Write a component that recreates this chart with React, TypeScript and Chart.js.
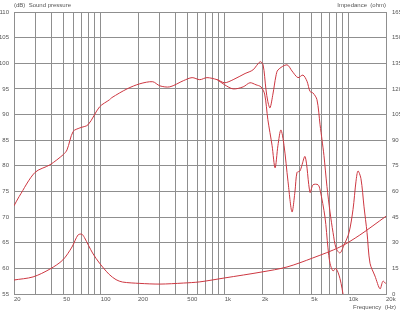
import React, { useEffect, useRef } from "react";
import { Chart, registerables } from "chart.js";

Chart.register(...registerables);

// Frequency axis (Hz)
const gridFreqs = [
  20, 30, 40, 50, 60, 70, 80, 90, 100, 200, 300, 400, 500, 600, 700, 800, 900,
  1000, 2000, 3000, 4000, 5000, 6000, 7000, 8000, 9000, 10000, 20000,
];
const labeledFreqs: Record<number, string> = {
  20: "20", 50: "50", 100: "100", 200: "200", 500: "500",
  1000: "1k", 2000: "2k", 5000: "5k", 10000: "10k", 20000: "20k",
};

// On-axis sound pressure (dB)
const onAxisFreq = [
  20, 22, 29.5, 39, 50, 53.5, 60, 68, 79, 98, 118, 123, 163, 207, 263, 300, 361, 464, 546, 630,
  720, 870, 1000, 1170, 1460, 1690, 1930, 2040, 2150, 2230, 2320, 2450, 2590, 2690, 3180, 3490,
  3900, 4280, 4610, 4880, 5160, 5550, 5880, 6100, 6320, 6680, 7070, 7480, 7900, 8510, 9160,
  10070, 10840, 11460, 11890, 12560, 13300, 14060, 14860, 16300, 17900, 18900, 20000,
];
const onAxisSpl = [
  72.2, 74, 78.7, 80.2, 82.2, 83.1, 86.7, 87.4, 88, 91.5, 92.9, 93.3, 95, 96, 96.4, 95.6, 95.4, 96.6, 97.2, 96.8,
  97.2, 96.8, 96.2, 96.8, 98.0, 98.7, 100.3, 99.7, 95, 92.5, 91.3, 94, 97.5, 98.7, 99.7, 98.5,
  97.2, 97.7, 96.5, 94.5, 94.2, 92.9, 88, 85, 82, 76, 71, 67, 64, 63, 64.5,
  67, 71.5, 77, 79, 77.5, 72, 67, 61, 58.5, 56, 57.5, 57,
];

// Off-axis sound pressure (dB)
const offAxisFreq = [
  870, 1000, 1170, 1410, 1600, 1790, 1960, 2100, 2230, 2410, 2550, 2690, 2840, 3010, 3240, 3490,
  3690, 3830, 4050, 4450, 4880, 5160, 5660, 5880, 6440, 6810, 7070, 7480, 7900, 8510, 9160,
];
const offAxisSpl = [
  96.8, 95.8, 95, 95.4, 96.2, 95.8, 95.4, 94, 89, 84, 79.6, 84, 87, 84, 77, 71,
  75, 78.7, 79, 81.8, 74.8, 76.3, 76.3, 75.3, 70, 64, 61, 59.5, 60, 58, 54,
];

// Impedance (ohm)
const impFreq = [
  20, 28.5, 39, 49.5, 58.7, 65.6, 70.5, 74, 86, 98, 117, 133, 150, 207, 300, 464, 630,
  1000, 2000, 3180, 5100, 8500, 12300, 20000,
];
const impOhm = [
  8.2, 10, 14.6, 19.9, 27.5, 34.5, 35, 33, 24, 18, 11.5, 8.4, 7, 6.2, 5.8, 6.4, 7.1,
  9.4, 12.9, 15.8, 21, 27.5, 34.5, 45.5,
];

const FONT = "'Liberation Sans', Arial, sans-serif";
const TEXT = "#555";
const GRID = "#8f8f8f";
const RED = "rgb(205,55,65)";

const toPts = (xs: number[], ys: number[]) => xs.map((x, i) => ({ x, y: ys[i] }));

const captions = {
  id: "captions",
  afterDraw(chart: any) {
    const ctx = chart.ctx;
    const area = chart.chartArea;
    ctx.save();
    ctx.fillStyle = TEXT;
    ctx.font = `6px ${FONT}`;
    ctx.textBaseline = "middle";
    ctx.textAlign = "left";
    ctx.fillText("(dB)  Sound pressure", area.left, 5);
    ctx.textAlign = "right";
    ctx.fillText("Impedance  (ohm)", area.right, 5);
    ctx.fillText("Frequency  (Hz)", 396, 307);
    ctx.restore();
  },
};

export default function App() {
  const ref = useRef<HTMLCanvasElement | null>(null);
  useEffect(() => {
    if (!ref.current) return;
    const chart = new Chart(ref.current, {
      type: "line",
      data: {
        datasets: [
          {
            data: toPts(onAxisFreq, onAxisSpl),
            borderColor: RED, borderWidth: 1, pointRadius: 0, tension: 0.3, yAxisID: "y",
          },
          {
            data: toPts(offAxisFreq, offAxisSpl),
            borderColor: RED, borderWidth: 1, pointRadius: 0, tension: 0.3, yAxisID: "y",
          },
          {
            data: toPts(impFreq, impOhm),
            borderColor: RED, borderWidth: 1, pointRadius: 0, tension: 0.3, yAxisID: "y2",
          },
        ],
      },
      options: {
        animation: false,
        responsive: false,
        events: [],
        layout: { padding: { top: 12, left: 0, right: 0, bottom: 0 } },
        plugins: { legend: { display: false }, tooltip: { enabled: false } },
        scales: {
          x: {
            type: "logarithmic",
            min: 20,
            max: 20000,
            afterBuildTicks: (scale: any) => {
              scale.ticks = gridFreqs.map((v) => ({ value: v }));
            },
            afterFit: (scale: any) => { scale.height = 16; },
            ticks: {
              autoSkip: false,
              maxRotation: 0,
              minRotation: 0,
              align: "start",
              padding: 2,
              color: TEXT,
              font: { family: FONT, size: 6 },
              callback: (v: any) => labeledFreqs[Number(v)] ?? "",
            },
            grid: { color: GRID, lineWidth: 1, drawTicks: false },
            border: { color: GRID },
          },
          y: {
            position: "left",
            min: 55,
            max: 110,
            afterFit: (scale: any) => { scale.width = 14; },
            ticks: {
              stepSize: 5,
              padding: 5,
              color: TEXT,
              font: { family: FONT, size: 6 },
            },
            grid: { color: GRID, lineWidth: 1, drawTicks: false },
            border: { color: GRID },
          },
          y2: {
            position: "right",
            min: 0,
            max: 165,
            afterFit: (scale: any) => { scale.width = 14; },
            ticks: {
              stepSize: 15,
              padding: 6,
              color: TEXT,
              font: { family: FONT, size: 6 },
            },
            grid: { drawOnChartArea: false, drawTicks: false },
            border: { color: GRID },
          },
        },
      },
      plugins: [captions],
    });
    return () => chart.destroy();
  }, []);
  return (
    <div style={{ position: "fixed", left: 0, top: 0, width: 400, height: 310, background: "#fff" }}>
      <canvas ref={ref} width={400} height={310} style={{ display: "block" }} />
    </div>
  );
}
